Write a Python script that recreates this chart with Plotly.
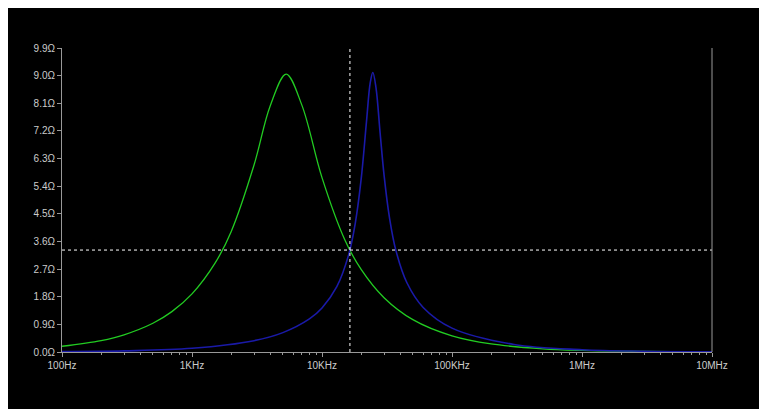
import plotly.graph_objects as go

# green trace |Z| (ohms) vs frequency (Hz)
f_green = [100, 200, 300, 500, 700, 1000, 1500, 2000, 3000, 4000, 5300, 7000, 10000,
           15000, 20000, 30000, 50000, 100000, 200000, 500000, 1e6, 2e6, 5e6, 1e7]
z_green = [0.187, 0.374, 0.561, 0.937, 1.315, 1.893, 2.885, 3.92, 6.09, 8.02, 9.05, 8.04, 5.68,
           3.65, 2.69, 1.769, 1.053, 0.525, 0.262, 0.105, 0.052, 0.026, 0.0105, 0.0052]

# blue trace
f_blue = [100, 300, 1000, 3000, 5000, 8000, 10000, 13000, 16000, 18000, 20000, 22000, 23500,
          24600, 26000, 28000, 30000, 33000, 37000, 45000, 60000, 100000, 300000, 1e6, 3e6, 1e7]
z_blue = [0.0121, 0.0364, 0.1215, 0.369, 0.631, 1.077, 1.435, 2.126, 3.154, 4.176, 5.62, 7.51, 8.77,
          9.1, 8.62, 7.13, 5.77, 4.39, 3.31, 2.255, 1.451, 0.778, 0.246, 0.0734, 0.0245, 0.0073]

x_ticks = [100, 1000, 10000, 100000, 1e6, 1e7]
x_labels = ["100Hz", "1KHz", "10KHz", "100KHz", "1MHz", "10MHz"]
y_ticks = [0.0, 0.9, 1.8, 2.7, 3.6, 4.5, 5.4, 6.3, 7.2, 8.1, 9.0, 9.9]
y_labels = [f"{v:.1f}Ω" for v in y_ticks]

cursor_f = 16400
cursor_z = 3.32

fig = go.Figure()
fig.add_trace(go.Scatter(x=f_green, y=z_green, mode="lines", line=dict(color="#22cc22", width=1.3, shape="spline")))
fig.add_trace(go.Scatter(x=f_blue, y=z_blue, mode="lines", line=dict(color="#1a1aa8", width=1.6, shape="spline")))

# cursor crosshair
fig.add_shape(type="line", xref="x", yref="paper", x0=cursor_f, x1=cursor_f, y0=0, y1=1,
              line=dict(color="white", width=1, dash="dot"))
fig.add_shape(type="line", xref="paper", yref="paper", x0=0, x1=1, y0=0, y1=0,
              line=dict(color="#999999", width=1)) if False else None
fig.add_shape(type="line", xref="paper", yref="y", x0=0, x1=1, y0=cursor_z, y1=cursor_z,
              line=dict(color="white", width=1, dash="dot"))
# right border
fig.add_shape(type="line", xref="paper", yref="paper", x0=1, x1=1, y0=0, y1=1,
              line=dict(color="#999999", width=1))

# page body has an 8px margin, so margins are shifted to land the plot area where the reference has it
fig.update_layout(
    width=767, height=409,
    paper_bgcolor="black", plot_bgcolor="black",
    margin=dict(l=54, r=63, t=40, b=65),
    showlegend=False,
    font=dict(family="Liberation Sans, Arial", size=10, color="#cccccc"),
)
fig.update_xaxes(type="log", range=[2, 7], tickvals=x_ticks, ticktext=x_labels,
                 showgrid=False, zeroline=False, showline=True, linecolor="#999999",
                 ticks="outside", ticklen=4, tickcolor="#999999",
                 minor=dict(ticks="outside", ticklen=2, tickcolor="#999999",
                            tickvals=[m * 10 ** d for d in range(2, 7) for m in range(2, 10)]))
fig.update_yaxes(range=[0, 9.9], tickvals=y_ticks, ticktext=y_labels,
                 showgrid=False, zeroline=False, showline=True, linecolor="#999999",
                 ticks="outside", ticklen=4, tickcolor="#999999")

fig.write_html("out.html")
